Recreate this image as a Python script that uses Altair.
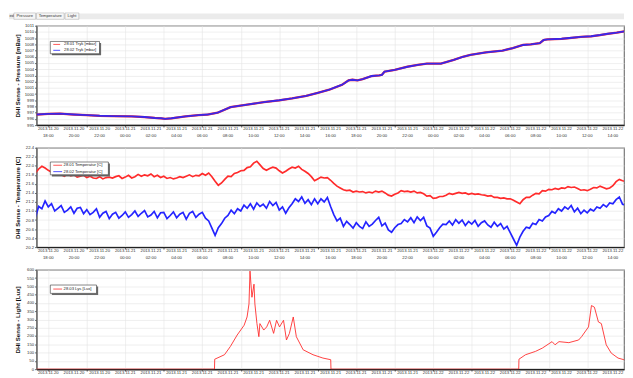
import altair as alt
import pandas as pd

FONT = "Liberation Sans"
RED = "#ff2b2b"
BLUE = "#2424ff"
BASE = pd.Timestamp("2013-11-20 18:00")

# ---------------- data (hours after 2013-11-20 18:00) ----------------
pressure_hours = [-0.92, 0.0, 0.92, 2.0, 3.0, 4.0, 5.0, 6.5, 7.5, 8.3,
                  8.8, 9.1, 9.6, 10.7, 11.7, 12.4, 13.2, 14.2, 15.5, 16.8,
                  18.0, 19.0, 20.1, 21.0, 21.9, 22.9, 23.4, 23.7, 24.1, 24.5,
                  25.2, 25.8, 26.0, 26.2, 27.0, 28.0, 28.8, 29.5, 30.6, 31.6,
                  32.3, 32.9, 34.1, 35.4, 36.2, 37.0, 37.6, 38.3, 38.6, 38.9,
                  40.0, 41.0, 41.5, 42.3, 43.0, 43.6, 44.3, 44.9]
pressure_2802 = [996.7, 996.8, 996.85, 996.7, 996.6, 996.5, 996.45, 996.4, 996.3, 996.15,
                 996.1, 996.0, 996.1, 996.4, 996.6, 996.7, 997.0, 997.9, 998.3, 998.7,
                 999.0, 999.3, 999.7, 1000.2, 1000.7, 1001.5, 1002.2, 1002.3, 1002.2, 1002.4,
                 1002.9, 1003.0, 1003.1, 1003.6, 1003.9, 1004.4, 1004.7, 1004.9, 1004.9, 1005.5,
                 1006.0, 1006.3, 1006.7, 1007.0, 1007.4, 1007.9, 1008.0, 1008.2, 1008.7, 1008.8,
                 1008.9, 1009.1, 1009.2, 1009.3, 1009.5, 1009.7, 1009.9, 1010.1]
pressure_2801 = [996.7, 996.8, 996.85, 996.7, 996.6, 996.5, 996.45, 996.4, 996.3, 996.15,
                 996.1, 996.0, 996.1, 996.4, 996.6, 996.7, 997.0, 997.9, 998.3, 998.7,
                 999.0, 999.3, 999.7, 1000.2, 1000.7, 1001.5, 1002.2, 1002.3, 1002.2, 1002.4,
                 1002.9, 1003.0, 1003.1, 1003.6, 1003.9, 1004.4, 1004.7, 1004.9, 1004.9, 1005.5,
                 1006.0, 1006.3, 1006.7, 1007.0, 1007.4, 1007.9, 1008.0, 1008.2, 1008.7, 1008.8,
                 1008.9, 1009.1, 1009.2, 1009.3, 1009.5, 1009.7, 1009.9, 1010.1]

# temperature: one reading every 15 minutes from 17:00 (hour -1), 4 per row = 1 hour
temp_2801 = [
    21.84, 21.93, 21.99, 21.95, 21.90, 21.86, 21.87, 21.81, 21.80, 21.77, 21.82, 21.78,
    21.80, 21.75, 21.77, 21.79, 21.74, 21.77, 21.73, 21.72, 21.76, 21.71, 21.74, 21.75,
    21.73, 21.76, 21.78, 21.72, 21.75, 21.79, 21.73, 21.76, 21.81, 21.77, 21.80, 21.78,
    21.82, 21.76, 21.79, 21.74, 21.77, 21.72, 21.74, 21.71, 21.73, 21.76, 21.74, 21.77,
    21.80, 21.76, 21.79, 21.78, 21.83, 21.79, 21.84, 21.76, 21.66, 21.57, 21.62, 21.70,
    21.77, 21.76, 21.83, 21.85, 21.89, 21.90, 21.96, 21.98, 22.06, 22.10, 22.02, 21.94,
    21.90, 21.94, 21.97, 21.95, 21.89, 21.84, 21.88, 21.93, 21.97, 21.95, 21.99, 21.92,
    21.88, 21.83, 21.76, 21.67, 21.71, 21.75, 21.73, 21.74, 21.68, 21.61, 21.55, 21.51,
    21.47, 21.45, 21.46, 21.42, 21.44, 21.42, 21.43, 21.40, 21.42, 21.40, 21.44, 21.42,
    21.44, 21.40, 21.35, 21.33, 21.37, 21.40, 21.45, 21.43, 21.44, 21.42, 21.44, 21.40,
    21.41, 21.38, 21.33, 21.34, 21.28, 21.29, 21.32, 21.32, 21.35, 21.39, 21.37, 21.39,
    21.41, 21.39, 21.40, 21.37, 21.39, 21.37, 21.38, 21.36, 21.35, 21.33, 21.34, 21.30,
    21.30, 21.28, 21.29, 21.27, 21.27, 21.24, 21.20, 21.16, 21.25, 21.30, 21.30, 21.35,
    21.39, 21.38, 21.45, 21.44, 21.48, 21.47, 21.50, 21.48, 21.51, 21.50, 21.54, 21.52,
    21.53, 21.50, 21.46, 21.47, 21.45, 21.48, 21.52, 21.51, 21.55, 21.52, 21.49, 21.51,
    21.56, 21.65, 21.70, 21.67, 21.66]
temp_2802 = [
    20.86, 21.10, 21.05, 21.22, 21.09, 21.16, 21.00, 21.06, 21.12, 20.97, 21.02, 21.09,
    20.95, 21.06, 21.08, 20.94, 21.03, 20.92, 20.97, 21.05, 20.86, 20.95, 20.99, 20.83,
    20.93, 20.97, 20.84, 20.90, 20.98, 20.86, 20.92, 21.00, 20.88, 20.95, 21.01, 20.87,
    20.91, 20.99, 20.85, 20.96, 20.97, 20.83, 20.90, 20.98, 20.85, 20.93, 20.97, 20.82,
    20.95, 20.99, 20.86, 20.93, 20.97, 20.84, 20.78, 20.62, 20.46, 20.63, 20.72, 20.84,
    20.90, 21.02, 20.94, 21.05, 21.00, 21.13, 21.06, 21.16, 21.04, 21.18, 21.10, 21.15,
    21.06, 21.21, 21.12, 21.19, 21.02, 21.09, 20.95, 21.07, 21.16, 21.27, 21.21, 21.31,
    21.17, 21.25, 21.14, 21.27, 21.16, 21.27, 21.20, 21.30, 21.10, 20.92, 20.78, 20.84,
    20.66, 20.77, 20.70, 20.62, 20.74, 20.66, 20.61, 20.76, 20.66, 20.71, 20.79, 20.86,
    20.67, 20.73, 20.58, 20.53, 20.63, 20.70, 20.72, 20.81, 20.76, 20.85, 20.74, 20.87,
    20.79, 20.86, 20.67, 20.62, 20.44, 20.53, 20.63, 20.71, 20.70, 20.78, 20.69, 20.81,
    20.73, 20.80, 20.68, 20.77, 20.71, 20.79, 20.66, 20.74, 20.78, 20.69, 20.64, 20.75,
    20.66, 20.72, 20.60, 20.66, 20.52, 20.38, 20.24, 20.42, 20.55, 20.64, 20.62, 20.73,
    20.70, 20.81, 20.78, 20.87, 20.90, 20.99, 20.95, 21.05, 21.00, 21.09, 21.04, 21.12,
    20.98, 21.06, 20.94, 21.02, 20.96, 21.04, 21.00, 21.09, 21.06, 21.14, 21.09, 21.18,
    21.16, 21.25, 21.31, 21.15, 21.13]
temp_hours = [-1.0 + 0.25 * i for i in range(len(temp_2801))]

light_hours = [-1.0, 12.95, 12.97, 13.73, 14.19, 14.72, 15.26, 15.49, 15.64, 15.72,
               15.87, 16.03, 16.10, 16.26, 16.41, 16.49, 16.79, 17.02, 17.25, 17.56,
               17.79, 18.02, 18.33, 18.56, 18.79, 19.09, 19.33, 19.86, 20.63, 21.40,
               22.01, 22.03, 36.66, 36.68, 37.19, 37.96, 38.50, 39.26, 39.49, 39.80,
               40.57, 41.33, 41.56, 42.10, 42.33, 42.56, 42.87, 43.10, 43.48, 43.87,
               44.40, 44.86]
light_2803 = [0, 0, 60, 87, 137, 206, 265, 315, 394, 592,
              434, 513, 394, 275, 196, 275, 236, 255, 295, 216,
              295, 255, 295, 176, 216, 315, 196, 117, 87, 67,
              57, 0, 0, 60, 87, 107, 127, 166, 147, 166,
              160, 176, 196, 255, 384, 374, 285, 275, 147, 97,
              67, 57]

# x tick labels: every two hours from 2013-11-20 18:00 to 2013-11-22 14:00
tick_dates = (["2013.11.20"] * 3 + ["2013.11.21"] * 12 + ["2013.11.22"] * 8)
tick_times = ["18:00", "20:00", "22:00",
              "00:00", "02:00", "04:00", "06:00", "08:00", "10:00",
              "12:00", "14:00", "16:00", "18:00", "20:00", "22:00",
              "00:00", "02:00", "04:00", "06:00", "08:00", "10:00", "12:00", "14:00"]
tick_hours = [2 * i for i in range(len(tick_times))]

tabs = ["Pressure", "Temperature", "Light"]
pressure_legend = ["28.01 Tryk [mbar]", "28.02 Tryk [mbar]"]
temp_legend = ["28.01 Temperatur [C]", "28.02 Temperatur [C]"]
light_legend = ["28.03 Lys [Lux]"]

pressure_ticks = list(range(995, 1012))
temp_ticks = [round(20.2 + 0.2 * i, 1) for i in range(12)]
light_ticks = list(range(0, 601, 50))

# ---------------- helpers ----------------
W = 597
H = 101
ONE = pd.DataFrame({"a": [0]})


def frame(hours, values):
    return pd.DataFrame({"time": BASE + pd.to_timedelta(hours, unit="h"), "value": values})


ticks_df = pd.DataFrame({"time": BASE + pd.to_timedelta(tick_hours, unit="h"),
                         "date": tick_dates, "clock": tick_times})

x_scale = alt.Scale(
    domain=[alt.DateTime(year=2013, month=11, date=20, hours=17, minutes=5),
            alt.DateTime(year=2013, month=11, date=22, hours=14, minutes=52)],
    nice=False)

common_axis = dict(labelFont=FONT, labelFontSize=4.3, labelColor="#333", grid=True,
                   gridColor="#e3e3e3", gridWidth=0.6, tickColor="#666", tickSize=2)

x_axis = alt.Axis(title=None, labels=False, domainColor="#222", domainWidth=1.5,
                  **common_axis)


def y_axis(title, values, fmt):
    return alt.Axis(title=title, values=values, format=fmt, labelPadding=1,
                    titleX=-16, titleY=H / 2, titleAngle=270, titleAlign="center",
                    titleFont=FONT, titleFontSize=6.2,
                    titleFontWeight="bold", titleColor="#111", domainColor="#555",
                    labelOverlap=False, **common_axis)


def line(df, color, width, yscale, yaxis, opacity=1.0):
    return alt.Chart(df).mark_line(color=color, strokeWidth=width, clip=True,
                                   opacity=opacity).encode(
        x=alt.X("time:T", scale=x_scale, axis=x_axis),
        y=alt.Y("value:Q", scale=yscale, axis=yaxis))


def tick_labels(two_lines=True):
    out = [alt.Chart(ticks_df).mark_text(font=FONT, fontSize=4.3, color="#333",
                                         baseline="middle").encode(
        x=alt.X("time:T", scale=x_scale, axis=x_axis), y=alt.value(H + 4),
        text="date:N")]
    if two_lines:
        out.append(alt.Chart(ticks_df).mark_text(font=FONT, fontSize=4.3, color="#333",
                                                 baseline="middle").encode(
            x=alt.X("time:T", scale=x_scale, axis=x_axis), y=alt.value(H + 11),
            text="clock:N"))
    return out


def legend(x0, x1, y0, y1, labels, colors, ys, lx0, lx1, tx):
    layers = [
        alt.Chart(ONE).mark_rect(fill="#6a6a6a").encode(
            x=alt.value(x0 + 1.6), x2=alt.value(x1 + 1.6),
            y=alt.value(y0 + 1.6), y2=alt.value(y1 + 1.6)),
        alt.Chart(ONE).mark_rect(fill="white", stroke="#333", strokeWidth=0.6).encode(
            x=alt.value(x0), x2=alt.value(x1), y=alt.value(y0), y2=alt.value(y1)),
    ]
    for lab, col, yy in zip(labels, colors, ys):
        layers.append(alt.Chart(ONE).mark_rule(color=col, strokeWidth=0.8).encode(
            x=alt.value(lx0), x2=alt.value(lx1), y=alt.value(yy)))
        layers.append(alt.Chart(ONE).mark_text(align="left", baseline="middle", font=FONT,
                                               fontSize=4.2, color="#222").encode(
            x=alt.value(tx), y=alt.value(yy), text=alt.value(lab)))
    return layers


# ---------------- tab bar (drawn above panel 1) ----------------
tab_layers = [
    alt.Chart(ONE).mark_rect(fill="#ebebeb").encode(
        x=alt.value(-28), x2=alt.value(W), y=alt.value(-12.5), y2=alt.value(-6.5)),
    alt.Chart(ONE).mark_text(align="left", baseline="middle", font=FONT, fontSize=4.3,
                             color="#333").encode(
        x=alt.value(-27.5), y=alt.value(-9.8), text=alt.value("ed")),
]
tab_x = [(-23, -1), (0, 28), (29, 43)]
for name, (a, b) in zip(tabs, tab_x):
    tab_layers.append(alt.Chart(ONE).mark_rect(fill="#f6f6f6", stroke="#aaaaaa",
                                               strokeWidth=0.5).encode(
        x=alt.value(a), x2=alt.value(b), y=alt.value(-13), y2=alt.value(-6.5)))
    tab_layers.append(alt.Chart(ONE).mark_text(align="center", baseline="middle", font=FONT,
                                               fontSize=4.2, color="#333").encode(
        x=alt.value((a + b) / 2), y=alt.value(-9.7), text=alt.value(name)))

# ---------------- panels ----------------
p_scale = alt.Scale(domain=[995, 1011], nice=False, zero=False)
p_axis = y_axis("DHI Sense - Pressure [mBar]", pressure_ticks, "d")
panel1 = alt.layer(
    line(frame(pressure_hours, pressure_2801), RED, 2.3, p_scale, p_axis),
    line(frame(pressure_hours, pressure_2802), "#3a26e8", 1.9, p_scale, p_axis),
    *tick_labels(),
    *tab_layers,
    *legend(14, 64, 16, 28.5, pressure_legend, [RED, BLUE], [19, 25], 17, 24, 28),
).properties(width=W, height=H)

t_scale = alt.Scale(domain=[20.2, 22.4], nice=False, zero=False)
t_axis = y_axis("DHI Sense - Temperature [C]", temp_ticks, ".1f")
panel2 = alt.layer(
    line(frame(temp_hours, temp_2801), RED, 1.7, t_scale, t_axis),
    line(frame(temp_hours, temp_2802), BLUE, 1.7, t_scale, t_axis),
    *tick_labels(),
    *legend(14, 73, 14.5, 27.5, temp_legend, [RED, BLUE], [17.8, 24.3], 17, 26, 27.5),
).properties(width=W, height=H)

l_scale = alt.Scale(domain=[0, 600], nice=False)
l_axis = y_axis("DHI Sense - Light [Lux]", light_ticks, "d")
panel3 = alt.layer(
    line(frame(light_hours, light_2803), RED, 0.9, l_scale, l_axis),
    *tick_labels(False),
    *legend(14, 61, 15.5, 24, light_legend, [RED], [19.6], 17, 26, 27.5),
).properties(width=W, height=H)

chart = alt.vconcat(panel1, panel2, panel3, spacing=6).resolve_scale(
    x="independent", y="independent"
).properties(
    padding={"left": 0, "top": 1, "right": 0, "bottom": 0}
).configure_view(stroke="#777", strokeWidth=1.2)

chart.save("out.html", embed_options={"renderer": "svg", "actions": False})
